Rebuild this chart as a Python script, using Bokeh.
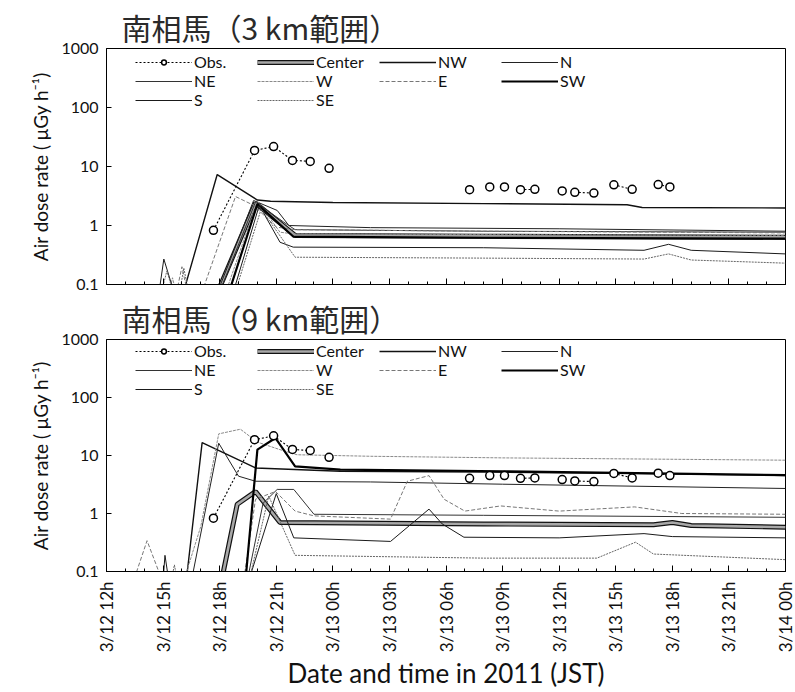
import math
import numpy as np
from bokeh.plotting import figure
from bokeh.models import FixedTicker, Legend, LegendItem, Title, Range1d, CustomLabelingPolicy
from bokeh.layouts import column
from bokeh.embed import file_html
from bokeh.resources import INLINE

# ---------------- data ----------------
# time axis: hours after 2011-03-12 12:00 JST
TICK_HOURS = list(range(0, 37, 3))
TICK_LABELS = ["3/12 12h", "3/12 15h", "3/12 18h", "3/12 21h", "3/13 00h", "3/13 03h",
               "3/13 06h", "3/13 09h", "3/13 12h", "3/13 15h", "3/13 18h", "3/13 21h", "3/14 00h"]
Y_TICKS = [0.1, 1, 10, 100, 1000]
Y_LABELS = ["0.1", "1", "10", "100", "1000"]

TITLES = ["南相馬（3 km範囲）", "南相馬（9 km範囲）"]
SERIES_NAMES = ["Center", "NW", "N", "NE", "W", "E", "SW", "S", "SE"]

# observations (None = gap in the dotted line)
OBS_T = [5.67, 7.85, 8.86, 9.86, 10.8, None, 11.8, None, 19.25, None, 20.32, None, 21.1, None,
         21.95, 22.71, None, 24.16, None, 24.83, 25.84, None, 26.9, 27.87, None, 29.25, 29.87]
OBS_V = [0.83, 18.7, 21.8, 12.7, 12.2, None, 9.3, None, 4.05, None, 4.5, None, 4.5, None,
         4.05, 4.1, None, 3.85, None, 3.65, 3.55, None, 4.9, 4.1, None, 4.95, 4.5]

# ---- 3 km range simulations ----
T3_CENTER = [0, 5.9, 7.9, 10.0, 20, 36]
V3_CENTER = [0.05, 0.075, 2.4, 0.68, 0.66, 0.63]
T3_NW = [0, 4.0, 5.87, 8.0, 8.7, 12, 20, 27.6, 28.4, 36]
V3_NW = [0.06, 0.06, 7.3, 2.7, 2.58, 2.45, 2.35, 2.25, 2.02, 1.98]
T3_N = [0, 5.9, 7.8, 9.05, 9.67, 14, 24, 36]
V3_N = [0.05, 0.076, 2.65, 1.8, 1.0, 0.92, 0.88, 0.8]
T3_NE = [0, 6.0, 7.9, 9.4, 10.0, 20, 36]
V3_NE = [0.05, 0.075, 2.5, 1.14, 0.85, 0.8, 0.77]
T3_W = [0, 3.2, 3.5, 3.8, 6.3, 8.0, 9.2, 9.9, 20, 36]
V3_W = [0.05, 0.05, 0.13, 0.05, 0.07, 2.6, 0.77, 0.72, 0.7, 0.68]
T3_E = [0, 3.6, 4.0, 4.4, 5.1, 6.84, 7.8, 9.0, 10.0, 20, 36]
V3_E = [0.05, 0.05, 0.2, 0.05, 0.08, 3.1, 2.2, 0.94, 0.85, 0.8, 0.75]
T3_SW = [0, 6.5, 8.0, 9.9, 20, 36]
V3_SW = [0.05, 0.075, 2.3, 0.65, 0.62, 0.6]
T3_S = [0, 2.8, 3.04, 3.6, 6.7, 8.1, 9.2, 9.9, 20, 28.5, 29.8, 31, 36]
V3_S = [0.05, 0.08, 0.27, 0.07, 0.07, 2.2, 0.52, 0.43, 0.42, 0.38, 0.48, 0.38, 0.33]
T3_SE = [0, 2.9, 3.2, 3.5, 3.9, 4.1, 4.4, 6.8, 8.2, 10.0, 20, 28.5, 29.8, 31, 36]
V3_SE = [0.05, 0.07, 0.17, 0.08, 0.08, 0.19, 0.06, 0.07, 1.9, 0.29, 0.28, 0.27, 0.33, 0.26, 0.23]

# ---- 9 km range simulations ----
T9_CENTER = [0, 6.1, 6.93, 7.9, 9.2, 20, 29, 30, 31, 36]
V9_CENTER = [0.05, 0.07, 1.44, 2.4, 0.7, 0.66, 0.64, 0.7, 0.62, 0.58]
T9_NW = [0, 4.1, 5.07, 7.9, 12.4, 20, 28, 36]
V9_NW = [0.03, 0.03, 16.7, 6.1, 5.35, 5.2, 4.9, 4.5]
T9_N = [0, 4.4, 5.95, 7.0, 7.9, 14, 21, 36]
V9_N = [0.04, 0.047, 16.3, 4.4, 3.6, 3.5, 3.2, 2.7]
T9_NE = [0, 7.5, 8.3, 9.05, 9.93, 11.0, 20, 36]
V9_NE = [0.05, 0.08, 1.5, 2.6, 2.6, 0.97, 0.93, 0.86]
T9_W = [0, 4.1, 5.0, 5.95, 7.1, 8.0, 9.2, 10.1, 14, 21, 36]
V9_W = [0.04, 0.07, 0.6, 23.6, 28.4, 17, 12.6, 10.3, 9.7, 9.1, 8.3]
T9_E = [0, 1.5, 2.15, 2.95, 7.3, 7.9, 8.96, 10.0, 11.0, 15.06, 15.95, 17.1, 17.9, 19.0, 20.9, 24, 28, 30.5, 36]
V9_E = [0.05, 0.08, 0.34, 0.07, 0.08, 1.76, 2.4, 1.1, 0.91, 0.8, 3.6, 4.5, 1.76, 1.1, 1.35, 1.1, 1.3, 1.0, 0.97]
T9_SW = [0, 7.4, 8.0, 8.96, 10.0, 12.4, 21, 36]
V9_SW = [0.05, 0.09, 12.6, 20, 6.5, 5.7, 5.35, 4.6]
T9_S = [0, 3.0, 3.1, 3.3, 7.6, 9.0, 9.93, 15.06, 17.1, 17.8, 18.95, 24, 28.5, 30, 36]
V9_S = [0.05, 0.07, 0.19, 0.07, 0.08, 2.2, 0.38, 0.33, 1.19, 0.66, 0.39, 0.38, 0.45, 0.4, 0.38]
T9_SE = [0, 3.4, 3.6, 3.8, 7.6, 8.6, 10.0, 20, 26, 28.05, 29, 36]
V9_SE = [0.05, 0.06, 0.13, 0.06, 0.08, 2.0, 0.19, 0.17, 0.17, 0.32, 0.2, 0.16]

PANEL_3KM = {"Center": (T3_CENTER, V3_CENTER), "NW": (T3_NW, V3_NW), "N": (T3_N, V3_N),
             "NE": (T3_NE, V3_NE), "W": (T3_W, V3_W), "E": (T3_E, V3_E), "SW": (T3_SW, V3_SW),
             "S": (T3_S, V3_S), "SE": (T3_SE, V3_SE)}
PANEL_9KM = {"Center": (T9_CENTER, V9_CENTER), "NW": (T9_NW, V9_NW), "N": (T9_N, V9_N),
             "NE": (T9_NE, V9_NE), "W": (T9_W, V9_W), "E": (T9_E, V9_E), "SW": (T9_SW, V9_SW),
             "S": (T9_S, V9_S), "SE": (T9_SE, V9_SE)}

# ---------------- styles ----------------
STYLE = {
    "NW": dict(color="#111111", line_width=1.4),
    "N": dict(color="#222222", line_width=1.0),
    "NE": dict(color="#333333", line_width=1.0),
    "W": dict(color="#8a8a8a", line_width=1.0, line_dash="3 1"),
    "E": dict(color="#777777", line_width=1.0, line_dash="4 2"),
    "SW": dict(color="#000000", line_width=2.2),
    "S": dict(color="#1a1a1a", line_width=1.0),
    "SE": dict(color="#666666", line_width=1.0, line_dash="2 1"),
}
FONT = "Lato"

HIDE_LABELS = CustomLabelingPolicy(code="""
try { return new indices.constructor(indices.size, 0) } catch (e) { return indices }
""")


def make_panel(title, data, show_labels, height, top, bottom, frame_h):
    p = figure(width=795, height=height, x_range=Range1d(0, 36), y_range=Range1d(0.1, 1000),
               y_axis_type="log", output_backend="svg", toolbar_location=None,
               min_border_left=106, min_border_right=10, min_border_top=top,
               min_border_bottom=bottom)
    p.title = Title(text=title, text_font="Noto Sans CJK JP", text_font_size="30px",
                    text_font_style="normal", text_color="#2a2a2a", align="left",
                    offset=15, standoff=0)
    p.xgrid.grid_line_color = None
    p.ygrid.grid_line_color = None
    p.outline_line_color = "black"
    p.outline_line_width = 1
    p.background_fill_color = "white"

    renderers = {}
    for name in SERIES_NAMES:
        t, v = data[name]
        t = np.array(t, dtype=float)
        v = np.array(v, dtype=float)
        if name == "Center":
            r1 = p.line(t, v, color="#111111", line_width=5)
            r2 = p.line(t, v, color="#a8a8a8", line_width=2.6)
            renderers[name] = [r1, r2]
        else:
            renderers[name] = [p.line(t, v, **STYLE[name])]

    ot = np.array(OBS_T, dtype=float)
    ov = np.array(OBS_V, dtype=float)
    r_ol = p.line(ot, ov, color="black", line_width=1.1, line_dash="2 2")
    r_op = p.scatter(ot, ov, marker="circle", size=8, fill_color="white",
                     line_color="black", line_width=1.5)

    items = [LegendItem(label="Obs.", renderers=[r_ol, r_op])]
    for name in SERIES_NAMES:
        items.append(LegendItem(label=name, renderers=renderers[name]))
    legend = Legend(items=items, ncols=4, orientation="horizontal",
                    location=(29, frame_h - 61),
                    border_line_color=None, background_fill_alpha=0,
                    glyph_width=57, glyph_height=12, label_height=12, spacing=0,
                    label_standoff=2, label_width=63, padding=2, margin=0,
                    label_text_font=FONT, label_text_font_size="16px",
                    label_text_color="#111111")
    p.add_layout(legend, "center")

    # axes
    xa = p.xaxis[0]
    xa.ticker = FixedTicker(ticks=TICK_HOURS, minor_ticks=list(range(0, 37)))
    xa.major_tick_in = 6
    xa.major_tick_out = 0
    xa.minor_tick_in = 3
    xa.minor_tick_out = 0
    xa.axis_line_color = "black"
    xa.major_tick_line_color = "black"
    xa.minor_tick_line_color = "black"
    if show_labels:
        xa.major_label_overrides = {h: lab for h, lab in zip(TICK_HOURS, TICK_LABELS)}
        xa.major_label_orientation = math.pi / 2
        xa.major_label_text_font = FONT
        xa.major_label_text_font_size = "17px"
        xa.major_label_text_color = "#111111"
        xa.major_label_standoff = 10
        xa.axis_label = "Date and time in 2011 (JST)"
        xa.axis_label_text_font = FONT
        xa.axis_label_text_font_size = "26px"
        xa.axis_label_text_font_style = "normal"
        xa.axis_label_text_color = "#111111"
        xa.axis_label_standoff = 2
    else:
        xa.major_label_policy = HIDE_LABELS
        xa.major_label_text_font_size = "0px"
        xa.major_label_standoff = 0

    ya = p.yaxis[0]
    ya.ticker = FixedTicker(ticks=Y_TICKS, minor_ticks=[])
    ya.major_label_overrides = {t: lab for t, lab in zip(Y_TICKS, Y_LABELS)}
    ya.major_tick_in = 5
    ya.major_tick_out = 0
    ya.minor_tick_line_color = None
    ya.major_label_text_font = FONT
    ya.major_label_text_font_size = "16px"
    ya.major_label_text_color = "#111111"
    ya.major_label_standoff = 8
    ya.axis_label = "Air dose rate ( μGy h⁻¹)"
    ya.axis_label_text_font = FONT
    ya.axis_label_text_font_size = "19px"
    ya.axis_label_text_font_style = "normal"
    ya.axis_label_text_color = "#111111"
    ya.axis_label_standoff = 6
    return p


# top: frame 48..284 ; bottom: frame 339..573
p1 = make_panel(TITLES[0], PANEL_3KM, False, 293, 48, 9, 236)
p2 = make_panel(TITLES[1], PANEL_9KM, True, 399, 46, 119, 234)
layout = column(p1, p2, spacing=0)

open("out.html", "w").write(file_html(layout, INLINE))
